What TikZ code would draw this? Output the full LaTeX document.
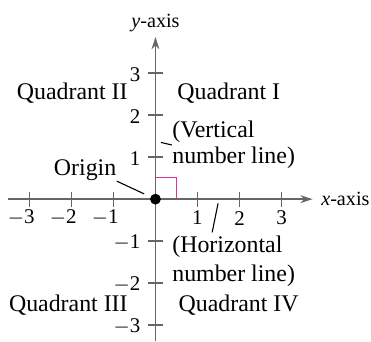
\documentclass[tikz,border=0pt]{standalone}
\usepackage{fontspec}
\setmainfont{Liberation Serif}
\usetikzlibrary{positioning,arrows.meta}
\definecolor{axgray}{HTML}{666666}
\definecolor{rapink}{HTML}{E4308E}

\begin{document}
\begin{tikzpicture}[x=0.6cm,y=0.6cm, >={Stealth[length=5pt,width=3.2pt]},
    every node/.style={font=\fontsize{9.7}{10.5}\selectfont},
    axis/.style={axgray,line width=0.6pt},
    axlab/.style={font=\fontsize{8.2}{10}\selectfont},
    ticklab/.style={font=\fontsize{8.5}{10}\selectfont,inner sep=0pt},
    leader/.style={black,line width=0.45pt}]
        \useasboundingbox (-3.70,-3.38) rectangle (5.13,4.74);
        % axes
        \coordinate (xl) at (-3.52,0);
        \coordinate (xr) at (3.74,0);
        \coordinate (yb) at (0,-3.38);
        \coordinate (yt) at (0,3.86);
        \draw[->,axis] (xl) -- (xr);
        \draw[->,axis] (yb) -- (yt);
        \node[axlab,anchor=west] (xlab) at (xr) {\textit{x}-axis};
        \node[axlab] (ylab) at (0,4.19) {\textit{y}-axis};
        % ticks and numbers
        \foreach \t in {1,2,3}{
          \draw[axis] (\t,-0.18) -- (\t,0.18);
          \draw[axis] (-\t,-0.18) -- (-\t,0.18);
          \draw[axis] (-0.18,\t) -- (0.18,\t);
          \draw[axis] (-0.18,-\t) -- (0.18,-\t);
          \node[ticklab] (xp\t) at (\t,-0.45) {\t};
          \node[ticklab] (xm\t) at (-\t,-0.45) {\llap{$-$}\t};
          \node[ticklab,anchor=east] (yp\t) at (-0.35,\t-0.04) {\t};
          \node[ticklab,anchor=east] (ym\t) at (-0.35,-\t-0.04) {$-$\t};
        }
        % right angle and origin
        \draw[rapink,line width=0.6pt] (0,0.52) -| (0.5,0);
        \node[circle,fill=black,inner sep=0pt,minimum size=4.4pt] (odot) at (0,0) {};
        % quadrants
        \node[anchor=east,inner sep=0pt] (q2) at (-0.65,2.52) {Quadrant II};
        \node[anchor=west,inner sep=0pt] (q1) at (0.51,2.52) {Quadrant I};
        \node[anchor=east,inner sep=0pt] (q3) at (-0.65,-2.53) {Quadrant III};
        \node[anchor=west,inner sep=0pt] (q4) at (0.54,-2.53) {Quadrant IV};
        % labels
        \node[anchor=east,inner sep=0pt] (olab) at (-0.92,0.69) {Origin};
        \draw[leader,shorten >=2.7pt] (olab.south east) -- (odot);
        \node[anchor=west,align=left,inner sep=0pt] (vlab) at (0.39,1.29) {(Vertical\\number line)};
        \coordinate (vpt) at (0.13,1.35);
        \draw[leader] (vpt) -- (vlab.west);
        \node[anchor=west,align=left,inner sep=0pt,font=\fontsize{9.7}{11.5}\selectfont] (hlab) at (0.39,-1.48) {(Horizontal\\number line)};
        \coordinate (h1) at (1.49,-0.10);
        \coordinate (h2) at (1.35,-0.79);
        \draw[leader] (h1) -- (h2);
      \end{tikzpicture}
\end{document}
